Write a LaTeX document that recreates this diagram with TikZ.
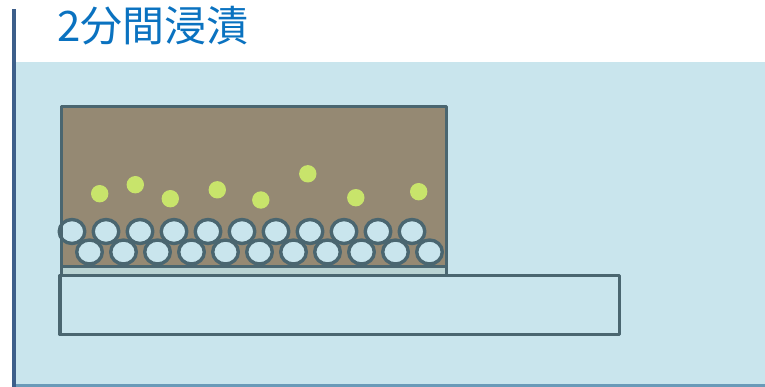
\documentclass[tikz,border=0pt]{standalone}
\usepackage{fontspec}
\newfontfamily\jpfont{Noto Sans CJK JP}
\definecolor{pool}{HTML}{C9E5ED}
\definecolor{edge}{HTML}{4A6670}
\definecolor{soil}{HTML}{958973}
\definecolor{seed}{HTML}{C8E46B}
\definecolor{strip}{HTML}{B9D3D3}
\definecolor{titleblue}{HTML}{0A72C0}
\definecolor{sidebar}{HTML}{3D5F8A}
\definecolor{floorline}{HTML}{6A9AB8}
\tikzset{
  outline/.style={draw=edge, line width=3.4pt, line join=round},
  bead/.style={outline, fill=pool},
  dot/.style={fill=seed, draw=none}
}
\begin{document}
\begin{tikzpicture}[x=1pt, y=-1pt]
  \useasboundingbox (0,0) rectangle (765,387);
  % tank of water
  \fill[pool] (16,62) rectangle (765,384);
  \fill[floorline] (16,383.5) rectangle (765,387);
  \fill[sidebar] (12,9) rectangle (16,387);
  % heading
  \node[anchor=west, text=titleblue, font=\jpfont\fontsize{42}{42}\selectfont, inner sep=0pt] (title) at (57,26) {2分間浸漬};
  % container with soil
  \fill[soil] (61.5,106.5) rectangle (446.5,275.5);
  \foreach \x/\y in {99.7/193.7, 135.3/184.7, 170.3/198.7, 217.3/189.8,
                     260.8/200, 307.8/173.8, 355.8/197.7, 418.7/191.7}
    \fill[dot] (\x,\y) circle (8.7);
  \draw[outline, fill=strip] (61.5,266.5) rectangle (446.5,275.5);
  % beads: upper row, then lower row on top
  \foreach \i in {0,...,10}
    \draw[bead] (72+34*\i,231.5) ellipse (12.8 and 12);
  \foreach \i in {0,...,10}
    \draw[bead] (89.5+34*\i,252) ellipse (12.8 and 12);
  \draw[outline] (61.5,275.5) -- (61.5,106.5) -- (446.5,106.5) -- (446.5,275.5);
  % base plate
  \draw[outline, fill=pool] (60,275.5) rectangle (619.5,334.5);
\end{tikzpicture}
\end{document}
